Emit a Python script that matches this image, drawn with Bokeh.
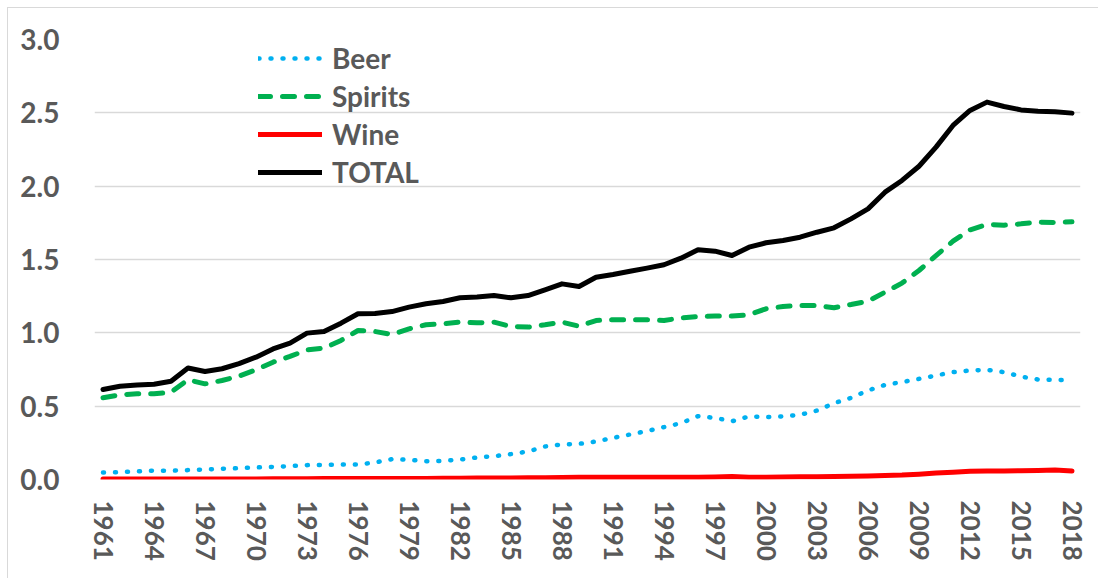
from bokeh.plotting import figure
from bokeh.models import Range1d, FixedTicker, Legend, LegendItem, BasicTickFormatter, NumeralTickFormatter
from bokeh.embed import file_html
from bokeh.resources import INLINE

years = list(range(1961, 2019))

beer = [0.048, 0.050, 0.055, 0.060, 0.060, 0.064, 0.068, 0.073, 0.077, 0.082,
        0.086, 0.091, 0.098, 0.100, 0.102, 0.102, 0.116, 0.139, 0.134, 0.125,
        0.127, 0.136, 0.150, 0.159, 0.173, 0.191, 0.225, 0.239, 0.243, 0.259,
        0.284, 0.307, 0.330, 0.357, 0.384, 0.432, 0.420, 0.397, 0.430, 0.425,
        0.430, 0.441, 0.470, 0.520, 0.557, 0.607, 0.645, 0.664, 0.686, 0.709,
        0.732, 0.743, 0.748, 0.732, 0.702, 0.682, 0.680, 0.675]

spirits = [0.557, 0.577, 0.584, 0.584, 0.595, 0.680, 0.652, 0.675, 0.705, 0.748,
           0.800, 0.839, 0.884, 0.895, 0.948, 1.016, 1.009, 0.989, 1.027, 1.055,
           1.061, 1.073, 1.068, 1.073, 1.043, 1.039, 1.055, 1.073, 1.045, 1.084,
           1.089, 1.089, 1.089, 1.084, 1.102, 1.111, 1.114, 1.114, 1.123, 1.164,
           1.180, 1.186, 1.186, 1.171, 1.193, 1.216, 1.277, 1.339, 1.425, 1.527,
           1.625, 1.702, 1.739, 1.734, 1.743, 1.754, 1.752, 1.757]

wine = [0.004, 0.004, 0.004, 0.004, 0.004, 0.004, 0.004, 0.004, 0.004, 0.004,
        0.005, 0.005, 0.005, 0.006, 0.006, 0.006, 0.007, 0.007, 0.007, 0.007,
        0.008, 0.009, 0.010, 0.010, 0.011, 0.012, 0.012, 0.014, 0.015, 0.015,
        0.015, 0.015, 0.015, 0.015, 0.015, 0.015, 0.017, 0.020, 0.016, 0.016,
        0.017, 0.018, 0.019, 0.020, 0.022, 0.024, 0.027, 0.030, 0.036, 0.044,
        0.050, 0.056, 0.058, 0.058, 0.060, 0.062, 0.065, 0.058]

total = [0.614, 0.636, 0.645, 0.650, 0.670, 0.760, 0.736, 0.755, 0.790, 0.834,
         0.890, 0.930, 0.998, 1.009, 1.066, 1.130, 1.132, 1.145, 1.175, 1.198,
         1.214, 1.239, 1.245, 1.254, 1.239, 1.254, 1.293, 1.334, 1.316, 1.379,
         1.398, 1.420, 1.441, 1.464, 1.509, 1.566, 1.557, 1.527, 1.584, 1.614,
         1.630, 1.652, 1.686, 1.716, 1.777, 1.845, 1.959, 2.039, 2.136, 2.266,
         2.414, 2.516, 2.573, 2.543, 2.520, 2.511, 2.507, 2.498]

x_ticks = list(range(1961, 2019, 3))
y_ticks = [0.0, 0.5, 1.0, 1.5, 2.0, 2.5, 3.0]

FONT = "Lato"
GRAY = "#595959"

p = figure(width=1091, height=571, output_backend="svg", toolbar_location=None,
           x_range=Range1d(1960.5, 2018.5), y_range=Range1d(0, 3),
           min_border_left=86, min_border_right=19, min_border_top=31, min_border_bottom=100)
p.styles = {"margin-left": "7px", "margin-top": "7px",
            "border-left": "1px solid #d9d9d9", "border-top": "1px solid #d9d9d9"}
p.outline_line_color = None
p.xgrid.grid_line_color = None
p.ygrid.grid_line_color = "#d9d9d9"
p.ygrid.grid_line_width = 1.3
p.ygrid.ticker = FixedTicker(ticks=y_ticks)

for ax in (p.xaxis[0], p.yaxis[0]):
    ax.axis_line_color = None
    ax.major_tick_line_color = None
    ax.minor_tick_line_color = None
    ax.major_label_text_font = FONT
    ax.major_label_text_font_style = "bold"
    ax.major_label_text_color = GRAY

p.xaxis.ticker = FixedTicker(ticks=x_ticks)
p.xaxis.formatter = BasicTickFormatter(use_scientific=False)
p.xaxis.major_label_orientation = "vertical"
p.xaxis.major_label_standoff = 15
p.xaxis.major_label_text_font_size = "26px"
p.yaxis.ticker = FixedTicker(ticks=y_ticks)
p.yaxis.formatter = NumeralTickFormatter(format="0.0")
p.yaxis.major_label_standoff = 29
p.yaxis.major_label_text_font_size = "28px"

r_beer = p.line(years, beer, line_color="#00B0F0", line_width=4.5, line_dash="1 11", line_cap="round")
r_spirits = p.line(years, spirits, line_color="#00B050", line_width=5, line_dash="12 12", line_cap="round")
r_wine = p.line(years, wine, line_color="#FF0000", line_width=5, line_cap="round", line_join="round")
r_total = p.line(years, total, line_color="#000000", line_width=5, line_cap="round", line_join="round")

legend = Legend(items=[LegendItem(label="Beer", renderers=[r_beer]),
                       LegendItem(label="Spirits", renderers=[r_spirits]),
                       LegendItem(label="Wine", renderers=[r_wine]),
                       LegendItem(label="TOTAL", renderers=[r_total])],
                location=(164, 288), orientation="vertical",
                glyph_width=64, glyph_height=38, label_height=38, spacing=0,
                padding=0, margin=0, label_standoff=10,
                background_fill_alpha=0, border_line_color=None,
                label_text_font=FONT, label_text_font_style="bold",
                label_text_font_size="28px", label_text_color=GRAY)
p.add_layout(legend, "center")

open("out.html", "w").write(file_html(p, INLINE))
